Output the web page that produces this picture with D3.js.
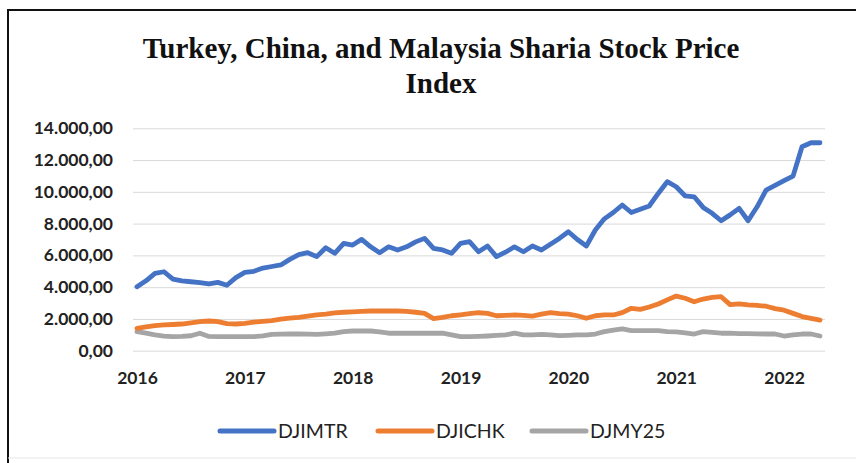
<!DOCTYPE html>
<html>
<head>
<meta charset="utf-8">
<script src="https://cdn.jsdelivr.net/npm/d3@7"></script>
<style>
  body { margin: 0; background: #fff; }
  svg { display: block; }
</style>
</head>
<body>
<svg id="chart"></svg>
<script>
// Year labels (one per January, data is monthly Jan 2016 - May 2022)
const years = ['2016', '2017', '2018', '2019', '2020', '2021', '2022'];

const seriesNames = ['DJIMTR', 'DJICHK', 'DJMY25'];

const djimtr = [
    4030, 4400, 4870, 4970, 4500, 4390, 4340, 4280, 4200, 4300, 4120, 4600,
    4930, 5000, 5200, 5300, 5400, 5750, 6050, 6170, 5920, 6480, 6130, 6760,
    6650, 7010, 6540, 6170, 6540, 6340, 6540, 6850, 7070, 6440, 6340, 6130,
    6760, 6860, 6230, 6590, 5920, 6200, 6540, 6230, 6590, 6340, 6700, 7070,
    7490, 7000, 6590, 7600, 8300, 8700, 9170, 8700, 8900, 9110, 9900, 10640,
    10320, 9740, 9690, 9020, 8650, 8180, 8550, 8960, 8180, 9060, 10110, 10400,
    10700, 10990, 12840, 13090, 13090
];

const djichk = [
    1410, 1500, 1580, 1620, 1650, 1680, 1750, 1830, 1870, 1830, 1700, 1680,
    1720, 1800, 1850, 1900, 1980, 2050, 2100, 2180, 2250, 2300, 2380, 2420,
    2450, 2480, 2500, 2500, 2500, 2500, 2480, 2420, 2350, 2020, 2100, 2200,
    2260, 2330, 2390, 2350, 2200, 2220, 2250, 2220, 2180, 2300, 2390, 2330,
    2300, 2200, 2040, 2200, 2250, 2250, 2400, 2670, 2600, 2750, 2940, 3200,
    3440, 3300, 3080, 3250, 3350, 3400, 2900, 2950, 2880, 2850, 2800, 2650,
    2550, 2350, 2150, 2040, 1930
];

const djmy25 = [
    1200, 1100, 990, 920, 880, 900, 940, 1100, 900, 880, 880, 880,
    880, 880, 930, 1030, 1040, 1050, 1050, 1040, 1030, 1060, 1100, 1200,
    1240, 1240, 1240, 1180, 1100, 1100, 1100, 1100, 1100, 1100, 1100, 1000,
    880, 880, 900, 925, 960, 990, 1100, 990, 1000, 1030, 1000, 950,
    970, 990, 990, 1050, 1200, 1300, 1380, 1260, 1260, 1260, 1260, 1200,
    1180, 1120, 1050, 1200, 1150, 1100, 1100, 1080, 1070, 1060, 1050, 1050,
    925, 1000, 1050, 1050, 925
];

const yTicks = [0, 2000, 4000, 6000, 8000, 10000, 12000, 14000];

const colors = {
    'DJIMTR': '#4472C4',
    'DJICHK': '#ED7D31',
    'DJMY25': '#A5A5A5'
};

const series = [
    { name: 'DJIMTR', values: djimtr },
    { name: 'DJICHK', values: djichk },
    { name: 'DJMY25', values: djmy25 }
];

const W = 856, H = 463;
const svg = d3.select('#chart').attr('width', W).attr('height', H);

// frame: dark left and top edges, faint bottom edge
svg.append('path')
    .attr('d', `M8,${H} V10 H${W}`)
    .attr('fill', 'none')
    .attr('stroke', '#111')
    .attr('stroke-width', 2);
svg.append('line')
    .attr('x1', 8).attr('x2', W)
    .attr('y1', 458).attr('y2', 458)
    .attr('stroke', '#e6e6e6')
    .attr('stroke-width', 1);

// Title
const title = svg.append('text')
    .attr('text-anchor', 'middle')
    .style('font-family', '"Liberation Serif", "Times New Roman", serif')
    .style('font-weight', 'bold')
    .style('font-size', '29px')
    .attr('fill', '#111');
title.append('tspan').attr('x', 441).attr('y', 58).text('Turkey, China, and Malaysia Sharia Stock Price');
title.append('tspan').attr('x', 441).attr('y', 93).text('Index');

// scales
const nMonths = djimtr.length;
const x = d3.scaleLinear().domain([0, nMonths - 1]).range([137, 820]);
const y = d3.scaleLinear().domain([0, 14000]).range([350.7, 128.3]);

const locale = d3.formatLocale({ decimal: ',', thousands: '.', grouping: [3], currency: ['', ''] });
const fmt = locale.format(',.2f');

// gridlines
svg.append('g')
    .attr('class', 'grid')
    .attr('transform', 'translate(133,0)')
    .call(d3.axisLeft(y).tickValues(yTicks).tickSize(-692).tickFormat(''))
    .call(g => g.select('.domain').remove())
    .call(g => g.selectAll('line').attr('stroke', '#d9d9d9').attr('stroke-width', 1));

// y axis labels
svg.append('g')
    .attr('transform', 'translate(113,0)')
    .call(d3.axisLeft(y).tickValues(yTicks).tickSize(0).tickPadding(0).tickFormat(fmt))
    .call(g => g.select('.domain').remove())
    .call(g => g.selectAll('text')
        .style('font-family', 'Lato, "Open Sans", sans-serif')
        .style('font-weight', 'bold')
        .style('font-size', '17.5px')
        .attr('fill', '#222'));

// x axis labels
svg.append('g')
    .attr('transform', 'translate(0,372)')
    .call(d3.axisBottom(x).tickValues(years.map((d, i) => i * 12)).tickSize(0).tickPadding(0)
        .tickFormat((d, i) => years[i]))
    .call(g => g.select('.domain').remove())
    .call(g => g.selectAll('text')
        .style('font-family', 'Lato, "Open Sans", sans-serif')
        .style('font-weight', 'bold')
        .style('font-size', '17.5px')
        .attr('fill', '#222'));

// lines
const line = d3.line()
    .x((d, i) => x(i))
    .y(d => y(d))
    .curve(d3.curveLinear);

// draw back to front so blue sits on top
[...series].reverse().forEach(s => {
    svg.append('path')
        .datum(s.values)
        .attr('fill', 'none')
        .attr('stroke', colors[s.name])
        .attr('stroke-width', 4.8)
        .attr('stroke-linejoin', 'round')
        .attr('stroke-linecap', 'round')
        .attr('d', line);
});

// legend
const legendPos = [
    { line: 220, text: 278 },
    { line: 378, text: 436 },
    { line: 532, text: 590 }
];
const legend = svg.append('g').attr('class', 'legend');
seriesNames.forEach((name, i) => {
    legend.append('line')
        .attr('x1', legendPos[i].line).attr('x2', legendPos[i].line + 54)
        .attr('y1', 431).attr('y2', 431)
        .attr('stroke', colors[name])
        .attr('stroke-width', 5)
        .attr('stroke-linecap', 'round');
    legend.append('text')
        .attr('x', legendPos[i].text)
        .attr('y', 438)
        .style('font-family', 'Lato, "Open Sans", sans-serif')
        .style('font-size', '19.5px')
        .attr('fill', '#222')
        .text(name);
});
</script>
</body>
</html>
